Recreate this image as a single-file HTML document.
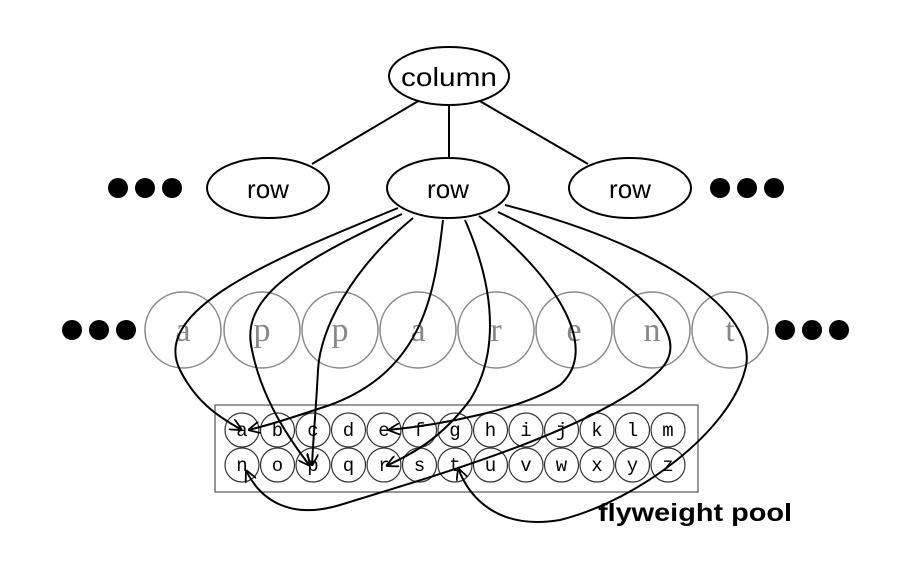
<!DOCTYPE html>
<html><head><meta charset="utf-8"><style>body{margin:0;background:#fff}</style></head><body>
<svg width="916" height="556" viewBox="0 0 916 556" xmlns="http://www.w3.org/2000/svg" font-family="Liberation Sans, sans-serif">
<defs><marker id="ar" viewBox="0 0 10 10" refX="10" refY="5" markerWidth="12" markerHeight="12" orient="auto" markerUnits="userSpaceOnUse"><path d="M0,0 L10,5 L0,10" fill="none" stroke="#000" stroke-width="1.5"/></marker></defs>
<g stroke="#000" stroke-width="2" fill="none">
<line x1="420" y1="100" x2="312" y2="164"/><line x1="449" y1="104" x2="449" y2="158"/><line x1="478" y1="100" x2="588" y2="164"/>
</g>
<g stroke="#000" stroke-width="2" fill="#fff">
<ellipse cx="449" cy="76" rx="60" ry="29"/>
<ellipse cx="268" cy="188" rx="61" ry="30"/>
<ellipse cx="448" cy="188" rx="61" ry="30"/>
<ellipse cx="630" cy="188" rx="61" ry="30"/>
</g>
<g font-size="26" text-anchor="middle" fill="#000">
<text x="449" y="86" textLength="96" lengthAdjust="spacingAndGlyphs">column</text><text x="268" y="198">row</text><text x="448" y="198">row</text><text x="630" y="198">row</text>
</g>
<g fill="#000">
<circle cx="118" cy="188" r="10"/><circle cx="145" cy="188" r="10"/><circle cx="172" cy="188" r="10"/>
<circle cx="720" cy="188" r="10"/><circle cx="747" cy="188" r="10"/><circle cx="774" cy="188" r="10"/>
<circle cx="72" cy="330" r="10"/><circle cx="99" cy="330" r="10"/><circle cx="126" cy="330" r="10"/>
<circle cx="785" cy="330" r="10"/><circle cx="812" cy="330" r="10"/><circle cx="839" cy="330" r="10"/>
</g>
<g stroke="#888" stroke-width="1.5" fill="none">
<circle cx="183" cy="330" r="38"/><circle cx="262" cy="330" r="38"/><circle cx="340" cy="330" r="38"/><circle cx="418" cy="330" r="38"/><circle cx="496" cy="330" r="38"/><circle cx="574" cy="330" r="38"/><circle cx="652" cy="330" r="38"/><circle cx="730" cy="330" r="38"/>
</g>
<g font-family="Liberation Serif, serif" font-size="34" fill="#888" text-anchor="middle">
<text x="183" y="341">a</text><text x="262" y="341">p</text><text x="340" y="341">p</text><text x="418" y="341">a</text><text x="496" y="341">r</text><text x="574" y="341">e</text><text x="652" y="341">n</text><text x="730" y="341">t</text>
</g>
<rect x="215" y="405" width="483" height="87" fill="none" stroke="#555" stroke-width="1.2"/>
<g stroke="#333" stroke-width="1.2" fill="none">
<circle cx="242" cy="430" r="17"/><circle cx="277.5" cy="430" r="17"/><circle cx="313" cy="430" r="17"/><circle cx="348.5" cy="430" r="17"/><circle cx="384" cy="430" r="17"/><circle cx="419.5" cy="430" r="17"/><circle cx="455" cy="430" r="17"/><circle cx="490.5" cy="430" r="17"/><circle cx="526" cy="430" r="17"/><circle cx="561.5" cy="430" r="17"/><circle cx="597" cy="430" r="17"/><circle cx="632.5" cy="430" r="17"/><circle cx="668" cy="430" r="17"/>
<circle cx="242" cy="465" r="17"/><circle cx="277.5" cy="465" r="17"/><circle cx="313" cy="465" r="17"/><circle cx="348.5" cy="465" r="17"/><circle cx="384" cy="465" r="17"/><circle cx="419.5" cy="465" r="17"/><circle cx="455" cy="465" r="17"/><circle cx="490.5" cy="465" r="17"/><circle cx="526" cy="465" r="17"/><circle cx="561.5" cy="465" r="17"/><circle cx="597" cy="465" r="17"/><circle cx="632.5" cy="465" r="17"/><circle cx="668" cy="465" r="17"/>
</g>
<g font-family="Liberation Mono, monospace" font-size="19" fill="#000" text-anchor="middle">
<text x="242" y="436">a</text><text x="277.5" y="436">b</text><text x="313" y="436">c</text><text x="348.5" y="436">d</text><text x="384" y="436">e</text><text x="419.5" y="436">f</text><text x="455" y="436">g</text><text x="490.5" y="436">h</text><text x="526" y="436">i</text><text x="561.5" y="436">j</text><text x="597" y="436">k</text><text x="632.5" y="436">l</text><text x="668" y="436">m</text>
<text x="242" y="471">n</text><text x="277.5" y="471">o</text><text x="313" y="471">p</text><text x="348.5" y="471">q</text><text x="384" y="471">r</text><text x="419.5" y="471">s</text><text x="455" y="471">t</text><text x="490.5" y="471">u</text><text x="526" y="471">v</text><text x="561.5" y="471">w</text><text x="597" y="471">x</text><text x="632.5" y="471">y</text><text x="668" y="471">z</text>
</g>
<g stroke="#000" stroke-width="2" fill="none" marker-end="url(#ar)">
<path d="M398,208 C270,260 150,310 180,370 C195,400 215,415 242,430"/>
<path d="M402,214 C290,265 240,300 252,350 C262,400 290,440 310,466"/>
<path d="M413,218 C350,270 320,330 318,370 C316,410 313,440 312,466"/>
<path d="M443,220 C435,290 425,370 330,405 C300,415 270,425 248,430"/>
<path d="M465,220 C500,300 495,360 470,400 C440,440 410,455 386,466"/>
<path d="M479,216 C560,280 600,350 560,385 C520,410 440,425 388,430"/>
<path d="M498,212 C620,270 700,330 660,370 C600,430 420,480 340,505 C290,520 260,500 246,470"/>
<path d="M505,205 C680,250 760,320 745,370 C730,430 640,500 560,520 C500,530 470,500 458,468"/>
</g>
<text x="598" y="521" font-size="25" font-weight="bold" fill="#000" textLength="194" lengthAdjust="spacingAndGlyphs">flyweight pool</text>
</svg>
</body></html>
